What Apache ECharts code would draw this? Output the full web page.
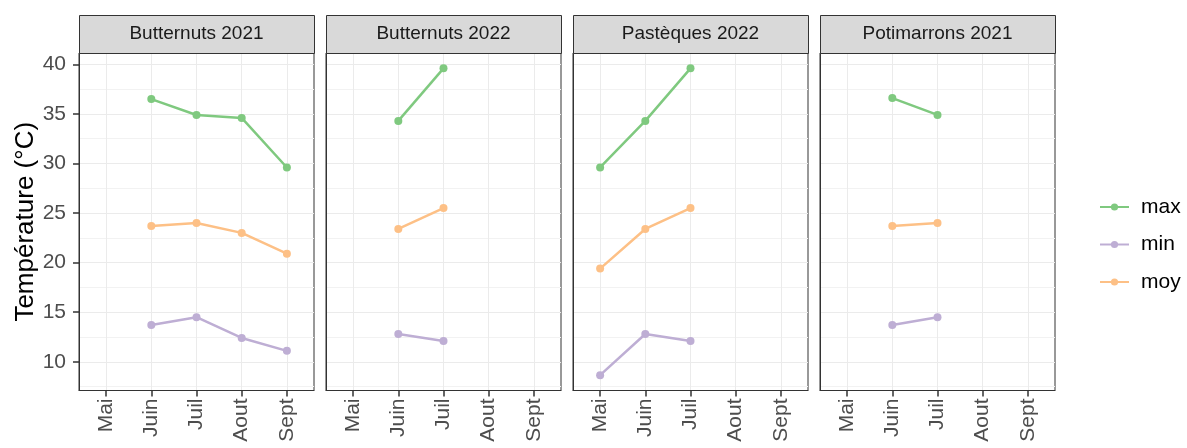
<!DOCTYPE html>
<html>
<head>
<meta charset="utf-8">
<script src="https://cdn.jsdelivr.net/npm/echarts@6/dist/echarts.min.js"></script>
<style>
  html, body { margin: 0; padding: 0; background: #fff; }
  #chart { width: 1187px; height: 448px; }
</style>
</head>
<body>
<div id="chart"></div>
<script>
// données
const months = ['Mai', 'Juin', 'Juil', 'Aout', 'Sept']
const panels = ['Butternuts 2021', 'Butternuts 2022', 'Pastèques 2022', 'Potimarrons 2021']
const maxValues = [
  [null, 36.5, 34.9, 34.6, 29.6],
  [null, 34.3, 39.6, null, null],
  [29.6, 34.3, 39.6, null, null],
  [null, 36.6, 34.9, null, null]
]
const minValues = [
  [null, 13.7, 14.5, 12.4, 11.1],
  [null, 12.8, 12.1, null, null],
  [8.65, 12.8, 12.1, null, null],
  [null, 13.7, 14.5, null, null]
]
const moyValues = [
  [null, 23.7, 24.0, 23.0, 20.9],
  [null, 23.4, 25.5, null, null],
  [19.4, 23.4, 25.5, null, null],
  [null, 23.7, 24.0, null, null]
]
const yTicks = [10, 15, 20, 25, 30, 35, 40]
const yMinor = [7.5, 12.5, 17.5, 22.5, 27.5, 32.5, 37.5]

const colors = { max: '#7FC97F', min: '#BEAED4', moy: '#FDC086' }
const font = 'Liberation Sans, Arial, sans-serif'

const gridLeft = [79, 326, 573, 820]
const gridWidth = 235
const gridTop = 53
const gridHeight = 337.5
const yMin = 7.1
const yMax = 41.15

const grids = []
const xAxes = []
const yAxes = []
const minorAxes = []
const graphics = []

panels.forEach((p, i) => {
  grids.push({
    left: gridLeft[i], top: gridTop, width: gridWidth, height: gridHeight,
    show: true, borderColor: '#333333', borderWidth: 1
  })
  xAxes.push({
    type: 'value', gridIndex: i, min: -0.6, max: 4.6, position: 'bottom',
    axisLine: { show: true, onZero: false, lineStyle: { color: '#333333', width: 1 } },
    axisTick: { show: true, length: 6, customValues: [0, 1, 2, 3, 4], lineStyle: { color: '#333333', width: 1.5 } },
    axisLabel: {
      customValues: [0, 1, 2, 3, 4],
      formatter: (v) => months[Math.round(v)] || '',
      rotate: 90, margin: 8, color: '#4d4d4d', fontSize: 21, fontFamily: font
    },
    splitLine: { show: true, lineStyle: { color: '#ebebeb', width: 1 } }
  })
  yAxes.push({
    type: 'value', gridIndex: i, min: yMin, max: yMax, position: 'left',
    name: i === 0 ? 'Température (°C)' : '',
    nameLocation: 'middle', nameGap: 40,
    nameTextStyle: { color: '#000', fontSize: 26, fontFamily: font },
    axisLine: { show: true, onZero: false, lineStyle: { color: '#333333', width: 1 } },
    axisTick: { show: i === 0, length: 6, customValues: yTicks, lineStyle: { color: '#333333', width: 1.5 } },
    axisLabel: {
      show: i === 0, customValues: yTicks, margin: 13,
      color: '#4d4d4d', fontSize: 21, fontFamily: font
    },
    splitLine: { show: true, lineStyle: { color: '#ebebeb', width: 1 } }
  })
  // axe invisible qui ne sert qu'aux lignes de grille secondaires
  minorAxes.push({
    type: 'value', gridIndex: i, min: yMin, max: yMax, position: 'right',
    axisLine: { show: false, onZero: false },
    axisTick: { show: false, customValues: yMinor },
    axisLabel: { show: false, customValues: yMinor },
    splitLine: { show: true, lineStyle: { color: '#f2f2f2', width: 1 } }
  })
  graphics.push({
    type: 'rect', left: gridLeft[i], top: 15, z: 10,
    shape: { width: gridWidth, height: gridTop - 15 },
    style: { fill: '#d9d9d9', stroke: '#333333', lineWidth: 1 }
  })
  graphics.push({
    type: 'text', z: 11,
    x: gridLeft[i] + gridWidth / 2, y: 15 + (gridTop - 15) / 2,
    style: {
      text: p, fill: '#1a1a1a', font: '19px ' + font,
      textAlign: 'center', textVerticalAlign: 'middle'
    }
  })
})

function toPairs (values) {
  const out = []
  values.forEach((v, j) => { if (v !== null) out.push([j, v]) })
  return out
}

const series = []
const sets = [['max', maxValues], ['min', minValues], ['moy', moyValues]]
panels.forEach((p, i) => {
  sets.forEach(([name, values]) => {
    series.push({
      name: name,
      type: 'line',
      xAxisIndex: i,
      yAxisIndex: i,
      data: toPairs(values[i]),
      symbol: 'circle',
      symbolSize: 8,
      showSymbol: true,
      lineStyle: { color: colors[name], width: 2.5 },
      itemStyle: { color: colors[name] },
      animation: false
    })
  })
})

const chart = echarts.init(document.getElementById('chart'))
chart.setOption({
  backgroundColor: '#fff',
  animation: false,
  grid: grids,
  xAxis: xAxes,
  yAxis: yAxes.concat(minorAxes),
  legend: {
    data: ['max', 'min', 'moy'],
    orient: 'vertical',
    left: 1094,
    top: 191,
    itemWidth: 29,
    itemHeight: 9,
    itemGap: 15.5,
    textStyle: { color: '#000', fontSize: 21, fontFamily: font, lineHeight: 22, padding: [0, 0, 0, 7] }
  },
  graphic: graphics,
  series: series
})
</script>
</body>
</html>
